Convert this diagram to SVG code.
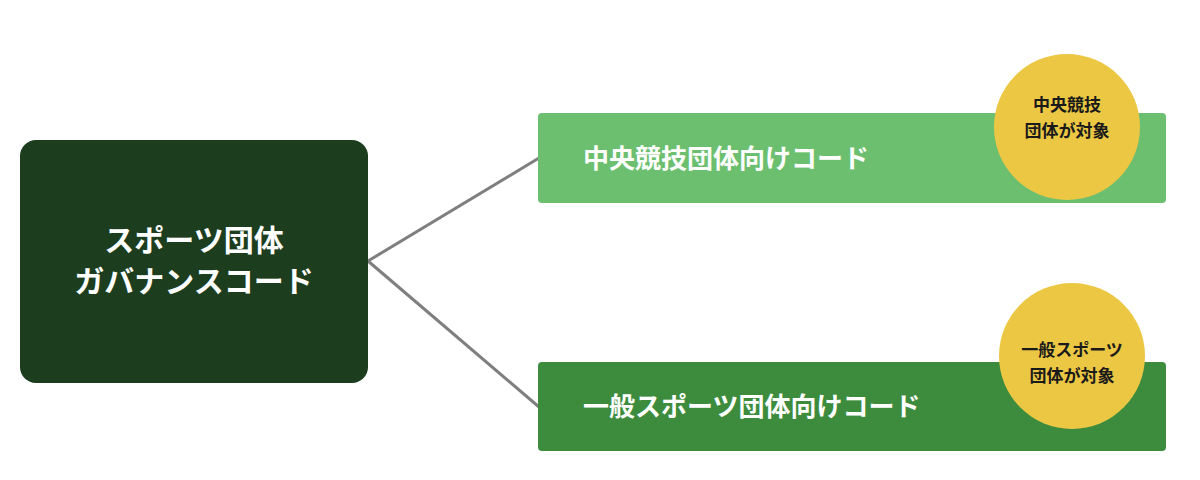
<svg xmlns="http://www.w3.org/2000/svg" width="1200" height="480" viewBox="0 0 1200 480">
<style>
text{font-family:"Noto Sans CJK JP",sans-serif;font-weight:bold}
.w{fill:#fff}.b{fill:#1a1a1a;font-size:17px}
</style>
<rect width="1200" height="480" fill="#fff"/>
<g id="connectors" stroke="#7f7f7f" stroke-width="3" fill="none">
<line x1="368" y1="261" x2="539" y2="158"/>
<line x1="368" y1="261" x2="539" y2="407"/>
</g>
<g id="root">
<rect x="20" y="140" width="348" height="243" rx="16" fill="#1c3d1e"/>
<text class="w" x="194" y="251" font-size="30" text-anchor="middle">スポーツ団体</text>
<text class="w" x="194" y="292" font-size="30" text-anchor="middle">ガバナンスコード</text>
</g>
<g id="top">
<rect x="538" y="113" width="628" height="90" rx="4" fill="#6cbf6f"/>
<text class="w" x="583" y="168" font-size="26">中央競技団体向けコード</text>
</g>
<g id="top-badge">
<circle cx="1067" cy="127" r="73" fill="#ebc744"/>
<text class="b" x="1067" y="111" text-anchor="middle">中央競技</text>
<text class="b" x="1067" y="137" text-anchor="middle">団体が対象</text>
</g>
<g id="bottom">
<rect x="538" y="362" width="628" height="89" rx="4" fill="#3d8b3d"/>
<text class="w" x="583" y="416" font-size="26">一般スポーツ団体向けコード</text>
</g>
<g id="bottom-badge">
<circle cx="1072" cy="356" r="73" fill="#ebc744"/>
<text class="b" x="1072" y="356" text-anchor="middle">一般スポーツ</text>
<text class="b" x="1072" y="382" text-anchor="middle">団体が対象</text>
</g>
</svg>
